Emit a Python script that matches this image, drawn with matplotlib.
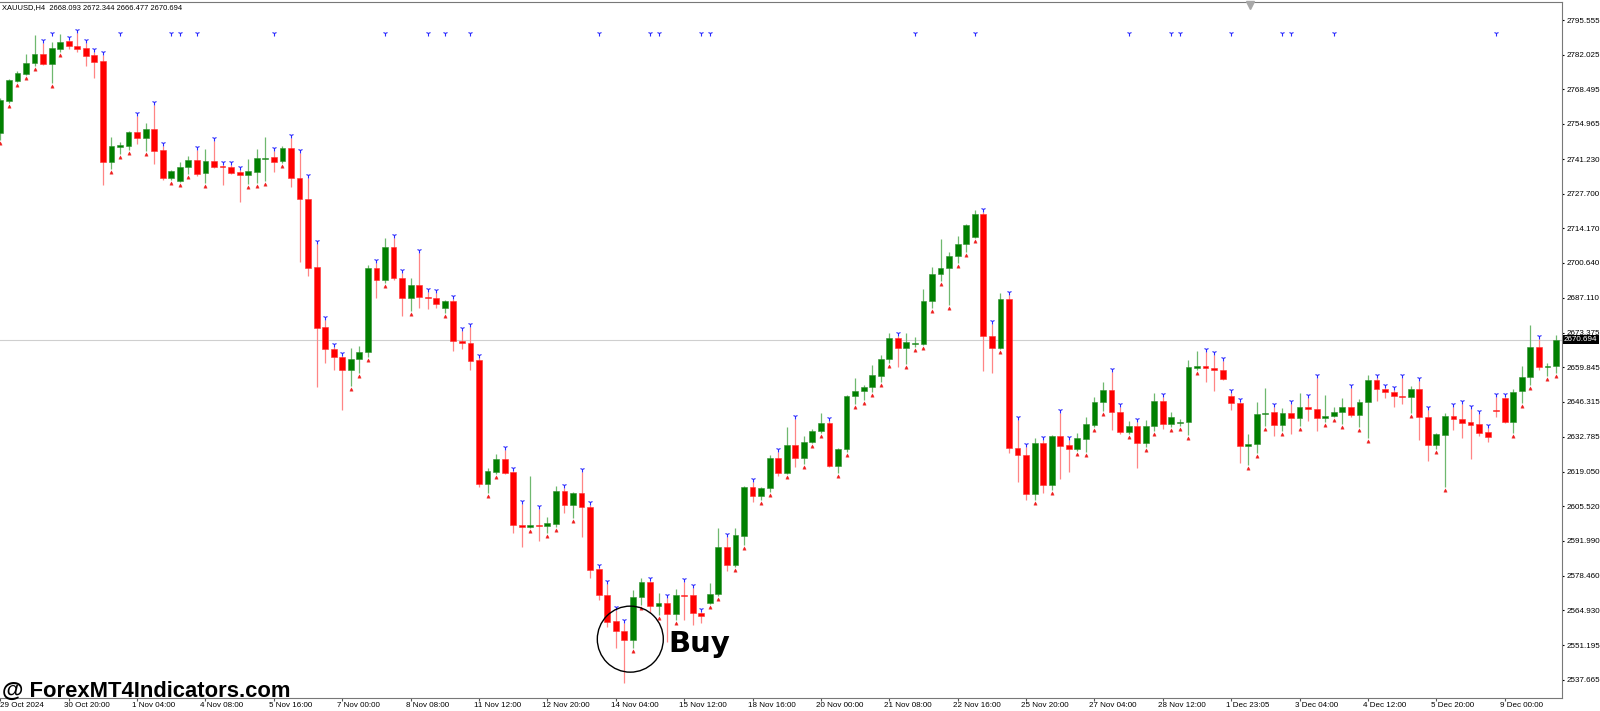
import matplotlib
matplotlib.use("Agg")
import matplotlib.pyplot as plt
from matplotlib.patches import Ellipse
from matplotlib.transforms import blended_transform_factory, offset_copy
import numpy as np

header_text = "XAUUSD,H4  2668.093 2672.344 2666.477 2670.694"
watermark_text = "@ ForexMT4Indicators.com"
last_price = 2670.694

opens = [
    2751.39, 2763.90, 2771.72, 2774.45, 2778.75, 2782.27, 2778.36, 2784.22, 2787.35, 2785.39,
    2784.61, 2781.88, 2779.53, 2740.06, 2745.92, 2746.31, 2751.78, 2749.44, 2752.96, 2744.75,
    2733.81, 2732.63, 2738.10, 2740.84, 2735.76, 2740.45, 2738.50, 2738.10, 2736.15, 2734.98,
    2736.15, 2741.23, 2742.01, 2740.45, 2745.53, 2733.81, 2725.60, 2699.03, 2675.58, 2666.98,
    2663.85, 2658.77, 2663.07, 2665.81, 2698.64, 2693.95, 2706.84, 2694.73, 2686.91, 2691.99,
    2687.30, 2686.91, 2683.01, 2685.74, 2670.11, 2669.33, 2662.68, 2614.23, 2618.91, 2623.99,
    2618.91, 2598.21, 2597.42, 2598.21, 2597.82, 2598.60, 2611.49, 2606.02, 2610.71, 2605.24,
    2581.01, 2570.84, 2560.68, 2556.77, 2553.26, 2570.06, 2575.92, 2566.54, 2567.72, 2563.42,
    2570.84, 2570.84, 2563.81, 2567.72, 2571.23, 2589.61, 2582.57, 2593.91, 2613.05, 2609.54,
    2612.66, 2624.38, 2618.52, 2629.46, 2624.38, 2630.63, 2634.93, 2638.06, 2621.26, 2627.90,
    2648.61, 2650.57, 2652.13, 2656.43, 2663.07, 2671.28, 2667.37, 2668.94, 2668.94, 2685.74,
    2696.29, 2698.64, 2703.33, 2708.01, 2710.75, 2719.74, 2672.06, 2667.37, 2686.52, 2628.29,
    2625.55, 2610.32, 2630.24, 2613.83, 2632.98, 2629.46, 2627.90, 2631.81, 2637.28, 2646.27,
    2650.96, 2642.36, 2634.54, 2636.89, 2630.24, 2636.89, 2646.66, 2637.67, 2638.06, 2638.45,
    2659.55, 2660.34, 2659.55, 2658.77, 2648.61, 2645.88, 2629.07, 2629.85, 2641.58, 2642.36,
    2637.28, 2641.97, 2640.01, 2644.31, 2643.53, 2640.01, 2640.80, 2642.36, 2644.31, 2641.19,
    2646.27, 2654.87, 2651.35, 2650.18, 2648.61, 2648.22, 2651.35, 2640.40, 2629.46, 2633.37,
    2640.80, 2639.62, 2638.45, 2637.67, 2634.54, 2643.14, 2647.83, 2638.45, 2650.57, 2656.04,
    2667.76, 2659.94, 2660.34,
]
highs = [
    2765.07, 2772.50, 2775.62, 2782.27, 2789.69, 2786.57, 2786.96, 2790.08, 2787.74, 2790.47,
    2786.57, 2783.05, 2781.88, 2749.83, 2747.88, 2752.18, 2758.04, 2755.30, 2762.33, 2746.31,
    2736.93, 2740.06, 2742.40, 2744.75, 2745.14, 2748.27, 2738.89, 2738.89, 2736.93, 2741.23,
    2745.14, 2749.83, 2744.36, 2746.31, 2749.44, 2743.58, 2733.81, 2708.01, 2678.31, 2667.76,
    2664.24, 2667.37, 2668.15, 2699.81, 2700.59, 2710.36, 2710.36, 2696.68, 2694.73, 2704.50,
    2689.26, 2688.87, 2686.13, 2686.52, 2674.02, 2675.58, 2663.46, 2620.48, 2625.94, 2627.51,
    2619.30, 2606.41, 2617.35, 2604.46, 2601.33, 2613.44, 2612.66, 2611.10, 2618.91, 2606.02,
    2581.40, 2575.14, 2564.98, 2559.90, 2572.79, 2577.49, 2576.31, 2571.62, 2569.67, 2573.18,
    2575.92, 2573.57, 2564.20, 2575.53, 2597.03, 2593.52, 2597.03, 2613.44, 2615.01, 2613.05,
    2625.55, 2626.73, 2636.50, 2639.62, 2632.98, 2635.72, 2641.97, 2638.84, 2628.29, 2649.00,
    2655.65, 2652.91, 2660.73, 2664.64, 2673.24, 2672.06, 2673.24, 2671.67, 2690.43, 2699.03,
    2709.97, 2704.89, 2711.14, 2715.83, 2721.30, 2720.52, 2676.75, 2688.87, 2688.08, 2639.23,
    2628.68, 2632.20, 2631.42, 2633.37, 2641.97, 2631.42, 2634.15, 2640.40, 2648.22, 2654.08,
    2657.99, 2644.31, 2638.84, 2638.45, 2639.23, 2649.79, 2648.22, 2642.36, 2639.62, 2662.68,
    2666.20, 2665.81, 2664.64, 2662.29, 2649.79, 2646.27, 2633.76, 2646.27, 2651.74, 2644.31,
    2643.92, 2645.49, 2649.79, 2647.83, 2655.65, 2649.00, 2644.31, 2647.83, 2651.74, 2647.44,
    2656.82, 2655.65, 2651.74, 2650.96, 2655.65, 2652.52, 2654.47, 2643.14, 2634.15, 2641.97,
    2644.31, 2645.49, 2643.53, 2641.58, 2636.11, 2648.22, 2648.22, 2651.35, 2660.34, 2676.36,
    2670.89, 2661.51, 2672.34,
]
lows = [
    2748.66, 2763.12, 2771.32, 2774.06, 2777.58, 2777.97, 2770.93, 2783.05, 2784.22, 2783.05,
    2777.58, 2772.89, 2731.07, 2737.32, 2743.19, 2744.75, 2747.10, 2744.36, 2739.28, 2733.03,
    2733.03, 2732.24, 2735.37, 2734.59, 2731.85, 2737.71, 2731.07, 2735.37, 2724.43, 2731.46,
    2731.85, 2732.63, 2736.15, 2739.67, 2730.29, 2700.98, 2695.51, 2652.13, 2661.51, 2658.77,
    2643.14, 2652.52, 2657.60, 2663.85, 2686.91, 2692.78, 2693.95, 2679.88, 2681.83, 2683.01,
    2682.61, 2683.01, 2681.05, 2666.20, 2666.98, 2658.77, 2613.05, 2610.71, 2618.13, 2618.13,
    2595.08, 2589.61, 2597.03, 2591.95, 2595.08, 2597.42, 2602.89, 2600.94, 2593.52, 2577.49,
    2568.89, 2558.34, 2550.13, 2536.45, 2550.13, 2566.93, 2563.81, 2563.03, 2552.47, 2561.07,
    2561.07, 2559.12, 2559.90, 2567.32, 2570.45, 2580.22, 2581.79, 2590.39, 2607.19, 2607.97,
    2611.10, 2617.35, 2618.13, 2620.87, 2622.04, 2630.24, 2634.15, 2620.87, 2618.52, 2626.73,
    2645.49, 2647.05, 2650.18, 2654.08, 2661.51, 2659.94, 2661.12, 2667.76, 2668.54, 2683.01,
    2693.56, 2684.18, 2700.59, 2704.89, 2710.36, 2658.38, 2657.60, 2666.98, 2626.34, 2615.01,
    2607.97, 2607.97, 2610.71, 2611.88, 2616.18, 2618.91, 2627.12, 2626.73, 2636.50, 2642.75,
    2635.33, 2633.76, 2633.76, 2620.48, 2628.68, 2634.93, 2635.72, 2636.50, 2636.89, 2633.37,
    2658.77, 2654.08, 2650.57, 2654.87, 2643.14, 2622.43, 2621.65, 2626.34, 2636.89, 2632.98,
    2634.93, 2633.76, 2636.89, 2638.84, 2634.93, 2638.45, 2640.40, 2637.67, 2640.40, 2636.50,
    2632.20, 2646.66, 2647.83, 2644.31, 2645.49, 2641.97, 2631.42, 2623.21, 2627.90, 2613.05,
    2635.33, 2632.20, 2623.99, 2632.98, 2630.63, 2640.40, 2638.06, 2634.15, 2645.88, 2652.91,
    2658.77, 2656.43, 2657.60,
]
closes = [
    2764.29, 2772.11, 2774.84, 2778.75, 2782.27, 2778.36, 2784.61, 2786.96, 2785.39, 2784.22,
    2781.49, 2779.14, 2740.06, 2746.31, 2746.71, 2751.78, 2749.44, 2752.96, 2744.36, 2733.81,
    2736.54, 2738.10, 2740.84, 2735.37, 2740.45, 2738.10, 2738.10, 2735.76, 2734.98, 2736.54,
    2741.62, 2741.62, 2740.06, 2745.53, 2733.81, 2725.60, 2698.64, 2675.19, 2666.98, 2663.85,
    2658.77, 2663.07, 2665.81, 2698.64, 2693.95, 2706.84, 2694.73, 2686.91, 2691.99, 2687.30,
    2686.91, 2684.57, 2685.74, 2670.11, 2669.33, 2662.29, 2614.23, 2619.30, 2623.99, 2618.52,
    2598.21, 2597.42, 2598.21, 2597.82, 2598.99, 2611.49, 2606.02, 2610.71, 2605.24, 2580.61,
    2570.84, 2560.29, 2556.77, 2553.26, 2570.06, 2575.92, 2566.54, 2567.72, 2563.42, 2570.84,
    2570.45, 2563.81, 2562.64, 2571.23, 2589.61, 2582.57, 2594.30, 2613.05, 2609.54, 2612.66,
    2624.38, 2618.52, 2629.46, 2624.38, 2630.63, 2634.93, 2638.06, 2621.26, 2627.90, 2648.61,
    2650.57, 2652.13, 2656.82, 2663.07, 2671.28, 2667.37, 2669.72, 2669.33, 2685.74, 2696.29,
    2698.64, 2703.33, 2708.01, 2715.44, 2719.74, 2672.06, 2667.37, 2686.52, 2628.29, 2625.55,
    2610.32, 2630.24, 2613.83, 2632.98, 2629.07, 2627.90, 2632.20, 2637.67, 2646.27, 2650.96,
    2642.36, 2634.54, 2636.89, 2630.24, 2636.89, 2646.66, 2637.67, 2640.40, 2638.45, 2659.94,
    2660.34, 2659.55, 2658.77, 2655.26, 2645.88, 2629.07, 2629.85, 2641.58, 2641.97, 2637.28,
    2641.97, 2640.01, 2644.31, 2643.53, 2640.01, 2640.80, 2642.36, 2644.31, 2641.19, 2646.27,
    2654.87, 2651.35, 2650.18, 2648.61, 2648.22, 2651.35, 2640.40, 2629.46, 2633.76, 2640.80,
    2639.62, 2638.06, 2637.28, 2634.15, 2632.59, 2642.75, 2638.45, 2650.18, 2656.04, 2667.76,
    2659.94, 2660.14, 2670.69,
]

# bars that carry the small blue signal arrow in the top row
signal_bars = [6, 14, 20, 21, 23, 32, 45, 50, 52, 55, 70, 76, 77, 82, 83,
               107, 114, 132, 137, 138, 144, 150, 151, 156, 175]

x_tick_bars = [0, 8, 16, 24, 32, 40, 48, 56, 64, 72, 80, 88, 96, 104, 112,
               120, 128, 136, 144, 152, 160, 168, 176]
x_tick_labels = ["29 Oct 2024", "30 Oct 20:00", "1 Nov 04:00", "4 Nov 08:00", "5 Nov 16:00",
                 "7 Nov 00:00", "8 Nov 08:00", "11 Nov 12:00", "12 Nov 20:00", "14 Nov 04:00",
                 "15 Nov 12:00", "18 Nov 16:00", "20 Nov 00:00", "21 Nov 08:00", "22 Nov 16:00",
                 "25 Nov 20:00", "27 Nov 04:00", "28 Nov 12:00", "1 Dec 23:05", "3 Dec 04:00",
                 "4 Dec 12:00", "5 Dec 20:00", "9 Dec 00:00"]
y_tick_labels = ["2795.555", "2782.025", "2768.495", "2754.965", "2741.230", "2727.700",
                 "2714.170", "2700.640", "2687.110", "2673.375", "2659.845", "2646.315",
                 "2632.785", "2619.050", "2605.520", "2591.990", "2578.460", "2564.930",
                 "2551.195", "2537.665"]
y_tick_values = [float(v) for v in y_tick_labels]

buy_bar = 73.7          # bar where the "Buy" circle is centred
buy_price = 2553.6

FONT = "Liberation Sans"
W, H = 1600, 711
fig = plt.figure(figsize=(W / 100, H / 100), dpi=100)
fig.patch.set_facecolor("white")
ax = fig.add_axes([0, 13 / H, 1562 / W, 696 / H])
ax.set_facecolor("white")

o = np.array(opens); c = np.array(closes)
h = np.array(highs); l = np.array(lows)
idx = np.arange(len(o))
up = c >= o

ax.set_xlim(-0.04, 182.7)
ax.set_ylim(2530.6, 2802.6)

# current price line
ax.axhline(last_price, color="#cfcfcf", lw=0.8, zorder=1)

# wicks
ax.vlines(idx[up], l[up], h[up], color="#6fb86f", lw=0.9, zorder=2)
ax.vlines(idx[~up], l[~up], h[~up], color="#ff8585", lw=0.9, zorder=2)

# bodies
min_body = 0.55
bh = np.abs(c - o)
mid = (o + c) / 2
bh_draw = np.maximum(bh, min_body)
bottom = mid - bh_draw / 2
ax.bar(idx[up], bh_draw[up], bottom=bottom[up], width=0.68, color="#008000",
       edgecolor="#2f8f2f", lw=0.4, zorder=3)
ax.bar(idx[~up], bh_draw[~up], bottom=bottom[~up], width=0.68, color="#ff0000",
       edgecolor="#ff3030", lw=0.4, zorder=3)

# small fractal-like markers
ax.plot(idx[~up], h[~up] + 1.1, ls="none", marker="1", ms=4.2, mew=0.8,
        color="#2a2aff", zorder=4)
ax.plot(idx[up], l[up] - 1.0, ls="none", marker="^", ms=2.4, mew=0.3,
        color="#ee2020", zorder=4)

# top-row signal arrows
tr_top = blended_transform_factory(ax.transData, ax.transAxes)
ax.plot(signal_bars, [0.9555] * len(signal_bars), ls="none", marker="1", ms=4.2,
        mew=0.8, color="#2a2aff", transform=tr_top, zorder=4)

# chart shift marker
ax.plot([146.2], [0.996], marker="v", ms=6, color="#a8a8a8", transform=tr_top,
        clip_on=False, zorder=5)

# Buy annotation
ax.add_patch(Ellipse((buy_bar, buy_price), width=7.72, height=25.8, fill=False,
                     edgecolor="black", lw=1.0, zorder=6))
ax.text(78.1, 2548.6, "Buy", fontsize=21, fontweight="bold", family="DejaVu Sans",
        ha="left", va="baseline", color="black", zorder=7)

# spines
for s in ["top", "right", "bottom"]:
    ax.spines[s].set_color("#787878")
    ax.spines[s].set_linewidth(0.8)
ax.spines["left"].set_visible(False)

# y axis on the right
ax.yaxis.tick_right()
ax.set_yticks(y_tick_values)
ax.set_yticklabels(y_tick_labels)
for t in ax.get_yticklabels():
    t.set_fontsize(5.8)
    t.set_family(FONT)
ax.tick_params(axis="y", length=1.5, width=0.8, pad=1.8, colors="black")

# x axis ticks with custom left-aligned labels
ax.set_xticks(x_tick_bars)
ax.set_xticklabels([])
ax.tick_params(axis="x", length=2, width=0.8, direction="out", colors="#555555")
tr_x = blended_transform_factory(ax.transData, fig.transFigure)
for k, (b, lab) in enumerate(zip(x_tick_bars, x_tick_labels)):
    dx = 0 if k == 0 else -5
    tr = offset_copy(tr_x, fig=fig, x=dx, y=0, units="dots")
    xx = -0.04 if k == 0 else b
    ax.text(xx, 5.5 / H, lab, transform=tr, ha="left", va="center", fontsize=5.8,
            family=FONT, color="black", clip_on=False)

# price label box
tr_price = offset_copy(blended_transform_factory(ax.transAxes, ax.transData),
                       fig=fig, x=2, y=0, units="dots")
ax.text(1.0, last_price, "2670.694", transform=tr_price, ha="left", va="center",
        fontsize=5.8, family=FONT, color="white", zorder=8, clip_on=False,
        bbox=dict(facecolor="black", edgecolor="none", pad=0.8))

# header & watermark
fig.text(2 / W, 1 - 7.5 / H, header_text, fontsize=5.4, family=FONT, ha="left",
         va="center", color="black")
fig.text(2 / W, 14.5 / H, watermark_text, fontsize=15.8, fontweight="bold", family=FONT,
         ha="left", va="baseline", color="black")

fig.savefig("out.png", dpi=100, facecolor="white")
